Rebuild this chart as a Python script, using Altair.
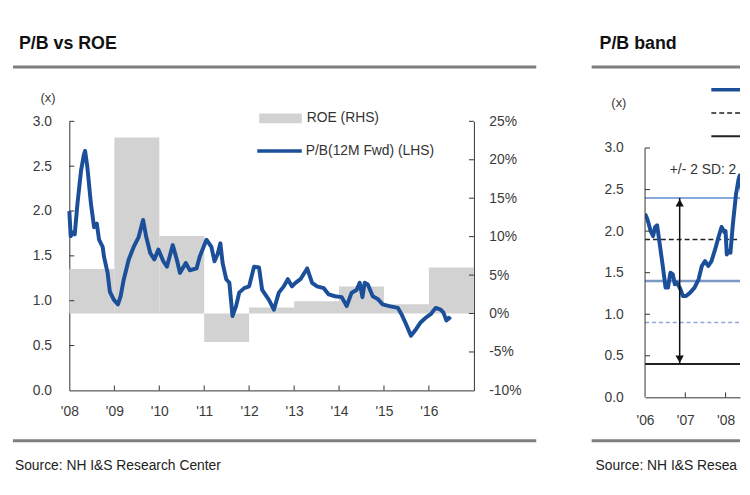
import altair as alt
import pandas as pd

FONT = "Liberation Sans"
BLUE = "#1b4f9a"
GRAY_BAR = "#d2d2d2"
TXT = "#333333"
ZWSP = "\u200b"

# ---------------- data ----------------
# P/B (12M Fwd), fractional year positions
pb_years = [2008.00, 2008.03, 2008.08, 2008.12, 2008.18, 2008.26, 2008.32, 2008.35, 2008.40, 2008.48,
            2008.55, 2008.61, 2008.66, 2008.74, 2008.77, 2008.85, 2008.90, 2008.99, 2009.08, 2009.14,
            2009.21, 2009.32, 2009.43, 2009.54, 2009.64, 2009.71, 2009.80, 2009.89, 2009.98, 2010.09,
            2010.17, 2010.30, 2010.39, 2010.46, 2010.59, 2010.68, 2010.83, 2010.90, 2011.05, 2011.16,
            2011.23, 2011.30, 2011.36, 2011.41, 2011.49, 2011.56, 2011.63, 2011.71, 2011.78, 2011.89,
            2012.00, 2012.11, 2012.22, 2012.29, 2012.44, 2012.55, 2012.66, 2012.77, 2012.86, 2012.95,
            2013.03, 2013.14, 2013.29, 2013.40, 2013.51, 2013.66, 2013.77, 2013.91, 2014.06, 2014.17,
            2014.28, 2014.39, 2014.46, 2014.52, 2014.57, 2014.64, 2014.75, 2014.86, 2014.97, 2015.12,
            2015.31, 2015.39, 2015.49, 2015.60, 2015.71, 2015.82, 2015.93, 2016.04, 2016.15, 2016.26,
            2016.32, 2016.39, 2016.44, 2016.48]
pb_values = [2.00, 1.72, 1.76, 1.74, 2.08, 2.45, 2.62, 2.67, 2.49, 2.08,
             1.82, 1.86, 1.68, 1.60, 1.49, 1.31, 1.10, 1.01, 0.96, 1.05,
             1.24, 1.46, 1.60, 1.71, 1.90, 1.71, 1.53, 1.46, 1.57, 1.44,
             1.38, 1.62, 1.46, 1.31, 1.42, 1.34, 1.36, 1.49, 1.68, 1.60,
             1.44, 1.52, 1.64, 1.42, 1.24, 1.20, 0.83, 0.94, 1.09, 1.14,
             1.16, 1.38, 1.37, 1.12, 1.01, 0.90, 1.09, 1.16, 1.24, 1.16,
             1.20, 1.24, 1.36, 1.20, 1.16, 1.14, 1.07, 1.05, 1.04, 0.94,
             1.09, 1.12, 1.20, 1.04, 1.20, 1.18, 1.05, 1.02, 0.96, 0.94,
             0.92, 0.85, 0.74, 0.61, 0.68, 0.76, 0.81, 0.85, 0.92, 0.90,
             0.87, 0.78, 0.81, 0.79]

# P/B before 2008 (band chart)
pb_early_years = [2006.00, 2006.06, 2006.14, 2006.20, 2006.25, 2006.30, 2006.36, 2006.44, 2006.51, 2006.57,
                  2006.63, 2006.69, 2006.74, 2006.79, 2006.88, 2006.94, 2007.02, 2007.12, 2007.23, 2007.33,
                  2007.41, 2007.49, 2007.57, 2007.65, 2007.74, 2007.82, 2007.90, 2007.98]
pb_early_values = [2.21, 2.14, 2.00, 1.94, 2.05, 2.07, 1.86, 1.58, 1.32, 1.32,
                   1.50, 1.48, 1.36, 1.38, 1.30, 1.22, 1.22, 1.26, 1.32, 1.42,
                   1.58, 1.64, 1.58, 1.64, 1.78, 1.92, 2.05, 1.98]

roe_years = [2008, 2009, 2010, 2011, 2012, 2013, 2014, 2015, 2016]
roe_values = [5.8, 22.9, 10.1, -3.7, 0.8, 1.6, 3.5, 1.2, 6.0]

pb_ticks = [0.0, 0.5, 1.0, 1.5, 2.0, 2.5, 3.0]
roe_ticks = [-10, -5, 0, 5, 10, 15, 20, 25]
left_year_ticks = [2008, 2009, 2010, 2011, 2012, 2013, 2014, 2015, 2016]
right_year_ticks = [2006, 2007, 2008]

band_values = [2.4, 1.9, 1.4, 0.9, 0.4]
band_colors = ["#5f8fd0", "#222222", "#7b98c6", "#8ea8d2", "#222222"]
band_dash = [[1, 0], [5, 3], [1, 0], [4, 3], [1, 0]]
band_width = [1.5, 1.5, 2.5, 1.5, 2.0]

arrow_year = 2006.86
arrow_top, arrow_bottom = 2.4, 0.4
sd_label = "+/- 2 SD: 2.4x ~ 0.4x"

left_title = "P/B vs ROE"
right_title = "P/B band"
source_text = "Source: NH I&S Research Center"
legend_roe = "ROE (RHS)"
legend_pb = "P/B(12M Fwd) (LHS)"


def to_date(y):
    yr = int(y)
    start = pd.Timestamp(yr, 1, 1)
    end = pd.Timestamp(yr + 1, 1, 1)
    return start + (y - yr) * (end - start)


pb_df = pd.DataFrame({"date": [to_date(y) for y in pb_years], "pb": pb_values})
pb_all_df = pd.DataFrame({
    "date": [to_date(y) for y in pb_early_years + pb_years],
    "pb": pb_early_values + pb_values,
})
roe_df = pd.DataFrame({
    "start": [pd.Timestamp(y, 1, 1) for y in roe_years],
    "end": [pd.Timestamp(y + 1, 1, 1) for y in roe_years],
    "roe": roe_values,
})


def txt(s, x, y, size=14, color=TXT, weight="normal", **kw):
    return alt.Chart(pd.DataFrame({"t": [s]})).mark_text(
        align="left", baseline="middle", font=FONT, fontSize=size, fontWeight=weight,
        color=color, **kw).encode(x=alt.value(x), y=alt.value(y), text="t:N")


def hrule(x1, x2, y, color="#7f7f7f", width=3, dash=(1, 0)):
    return alt.Chart(pd.DataFrame({"t": ["r"]})).mark_rule(
        color=color, strokeWidth=width, strokeDash=list(dash)).encode(
        x=alt.value(x1), x2=alt.value(x2), y=alt.value(y))


# ---------------- left panel ----------------
W1, H1 = 409, 272
xscale1 = alt.Scale(domain=[alt.DateTime(year=2008, month=1, date=1),
                            alt.DateTime(year=2017, month=1, date=1)])
xaxis1 = alt.Axis(values=[alt.DateTime(year=y, month=1, date=1) for y in left_year_ticks],
                  labelExpr="\"'\" + timeFormat(datum.value, '%y')", labelFlush=False,
                  labelOverlap=False, labelPadding=14, title=None)
pb_scale = alt.Scale(domain=[0, 3], nice=False, zero=False)
roe_scale = alt.Scale(domain=[-10, 25], nice=False, zero=False)

bars = alt.Chart(roe_df).mark_rect(color=GRAY_BAR).encode(
    x=alt.X("start:T", scale=xscale1, axis=xaxis1),
    x2="end:T",
    y=alt.Y("roe:Q", scale=roe_scale,
            axis=alt.Axis(orient="right", values=roe_ticks, labelExpr="datum.value + '%'",
                          labelPadding=15, title=None)),
    y2=alt.datum(0),
)

line1 = alt.Chart(pb_df).mark_line(color=BLUE, strokeWidth=4, strokeJoin="round").encode(
    x=alt.X("date:T", scale=xscale1, axis=xaxis1),
    y=alt.Y("pb:Q", scale=pb_scale,
            axis=alt.Axis(orient="left", values=pb_ticks, format=".1f", labelPadding=18,
                          title="(x)", titleAngle=0, titleX=-22, titleY=-24,
                          titleAlign="center", titleBaseline="middle")),
)

tick_l1 = alt.Chart(pd.DataFrame({"v": pb_ticks[1:]})).mark_rule(color="#333333").encode(
    y=alt.Y("v:Q", scale=pb_scale, axis=None), x=alt.value(0), x2=alt.value(5))
tick_r1 = alt.Chart(pd.DataFrame({"v": roe_ticks[1:]})).mark_rule(color="#333333").encode(
    y=alt.Y("v:Q", scale=roe_scale, axis=None), x=alt.value(W1), x2=alt.value(W1 - 5))
tick_b1 = alt.Chart(pd.DataFrame({"d": [pd.Timestamp(y, 1, 1) for y in left_year_ticks[1:]]})).mark_rule(
    color="#333333").encode(
    x=alt.X("d:T", scale=xscale1, axis=xaxis1), y=alt.value(H1), y2=alt.value(H1 - 5))

leg_rect = alt.Chart(pd.DataFrame({"t": [legend_roe]})).mark_rect(color=GRAY_BAR).encode(
    x=alt.value(192), x2=alt.value(235), y=alt.value(-8), y2=alt.value(2))
leg_line = alt.Chart(pd.DataFrame({"t": [legend_pb]})).mark_rule(color=BLUE, strokeWidth=3.5).encode(
    x=alt.value(190), x2=alt.value(235), y=alt.value(30))

left = alt.layer(
    bars, line1, tick_l1, tick_r1, tick_b1,
    leg_rect, txt(legend_roe, 240, -3), leg_line, txt(legend_pb, 239, 30.5),
    txt(left_title, -51, -78, size=18, color="#111111", weight="bold"),
    hrule(-57, 472, -55), hrule(-57, 472, 323),
    txt(source_text, -55, 348, color="#222222"),
).resolve_scale(y="independent").properties(width=W1, height=H1)

# ---------------- right panel ----------------
# plot frame shares the left panel's top edge; 3.0 sits 27px lower
W2, H2, H2_axis = 96, 279, 252
pb_scale2 = alt.Scale(domain=[0, 3.0 * H2 / H2_axis], nice=False, zero=False)
xscale2 = alt.Scale(domain=[alt.DateTime(year=2006, month=1, date=1),
                            alt.DateTime(year=2008, month=5, date=11)])
xaxis2 = alt.Axis(values=[alt.DateTime(year=y, month=1, date=1) for y in right_year_ticks],
                  labelExpr="\"'\" + timeFormat(datum.value, '%y')", labelFlush=False,
                  labelOverlap=False, labelPadding=16, title=None)

band_layers = []
for v, c, d, w in zip(band_values, band_colors, band_dash, band_width):
    band_layers.append(
        alt.Chart(pd.DataFrame({"v": [v]})).mark_rule(color=c, strokeDash=d, strokeWidth=w).encode(
            y=alt.Y("v:Q", scale=pb_scale2, axis=None), x=alt.value(0), x2=alt.value(W2)))

line2 = alt.Chart(pb_all_df).mark_line(color=BLUE, strokeWidth=4, strokeJoin="round", clip=True).encode(
    x=alt.X("date:T", scale=xscale2, axis=xaxis2),
    y=alt.Y("pb:Q", scale=pb_scale2,
            axis=alt.Axis(orient="left", values=pb_ticks, format=".1f", labelPadding=22, domain=False,
                          title="(x)", titleAngle=0, titleX=-27, titleY=-19,
                          titleAlign="center", titleBaseline="middle")),
)
yaxis_line2 = alt.Chart(pd.DataFrame({"lo": [pb_ticks[0]], "hi": [pb_ticks[-1]]})).mark_rule(
    color="#333333").encode(
    y=alt.Y("lo:Q", scale=pb_scale2, axis=None), y2="hi:Q", x=alt.value(0))

arrow_df = pd.DataFrame({"d": [to_date(arrow_year)], "top": [arrow_top], "bottom": [arrow_bottom]})
arrow_rule = alt.Chart(arrow_df).mark_rule(color="#111111", strokeWidth=1.5).encode(
    x=alt.X("d:T", scale=xscale2, axis=xaxis2),
    y=alt.Y("top:Q", scale=pb_scale2, axis=None), y2="bottom:Q")
arrow_up = alt.Chart(arrow_df).mark_point(shape="triangle-up", filled=True, size=70, color="#111111",
                                          opacity=1, yOffset=5).encode(
    x=alt.X("d:T", scale=xscale2, axis=xaxis2), y=alt.Y("top:Q", scale=pb_scale2, axis=None))
arrow_dn = alt.Chart(arrow_df).mark_point(shape="triangle-down", filled=True, size=70, color="#111111",
                                          opacity=1, yOffset=-5).encode(
    x=alt.X("d:T", scale=xscale2, axis=xaxis2), y=alt.Y("bottom:Q", scale=pb_scale2, axis=None))

tick_l2 = alt.Chart(pd.DataFrame({"v": pb_ticks[1:]})).mark_rule(color="#333333").encode(
    y=alt.Y("v:Q", scale=pb_scale2, axis=None), x=alt.value(0), x2=alt.value(5))
tick_b2 = alt.Chart(pd.DataFrame({"d": [pd.Timestamp(y, 1, 1) for y in right_year_ticks[1:]]})).mark_rule(
    color="#333333").encode(
    x=alt.X("d:T", scale=xscale2, axis=xaxis2), y=alt.value(H2), y2=alt.value(H2 - 5))

right = alt.layer(
    *band_layers, line2, yaxis_line2, arrow_rule, arrow_up, arrow_dn,
    txt(sd_label, 25, 49, limit=71, ellipsis=ZWSP),
    tick_l2, tick_b2,
    hrule(67, W2, -32, color=BLUE, width=3.5),
    hrule(67, W2, -8.5, color="#222222", width=1.5, dash=(5, 3)),
    hrule(67, W2, 15, color="#222222", width=2),
    txt(right_title, -46, -78, size=18, color="#111111", weight="bold"),
    hrule(-54, W2, -55), hrule(-54, W2, 323),
    txt(source_text, -50, 348, color="#222222", limit=146, ellipsis=ZWSP),
).resolve_scale(y="independent").properties(width=W2, height=H2)

chart = alt.hconcat(left, right, spacing=52).properties(
    padding={"left": 3, "top": 25, "right": 0, "bottom": 5}
).configure_view(stroke=None).configure_axis(
    labelFont=FONT, labelFontSize=14, labelColor="#3a3a3a",
    titleFont=FONT, titleFontSize=13, titleFontWeight="normal", titleColor="#3a3a3a",
    domainColor="#333333", domainWidth=1, grid=False, ticks=False, tickSize=0,
)

chart.save("out.html", embed_options={"renderer": "svg", "actions": False})
